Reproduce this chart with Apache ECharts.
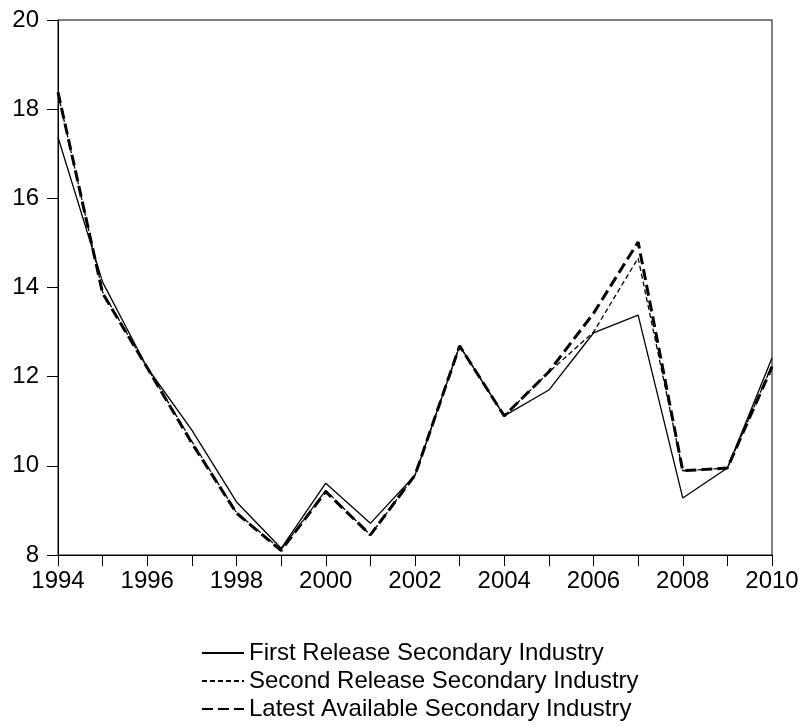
<!DOCTYPE html>
<html>
<head>
<meta charset="utf-8">
<script src="https://cdn.jsdelivr.net/npm/echarts@6/dist/echarts.min.js"></script>
<style>
  html, body { margin: 0; padding: 0; background: #fff; }
  #chart-container { width: 803px; height: 728px; }
</style>
</head>
<body>
<div id="chart-container"></div>
<script>
var years = ['1994', '1995', '1996', '1997', '1998', '1999', '2000', '2001', '2002',
             '2003', '2004', '2005', '2006', '2007', '2008', '2009', '2010'];
var firstRelease = [17.37, 14.12, 12.20, 10.80, 9.19, 8.15, 9.61, 8.71, 9.79,
                    12.69, 11.12, 11.70, 12.98, 13.38, 9.28, 9.95, 12.42];
var secondRelease = [18.35, 13.90, 12.20, 10.55, 8.95, 8.12, 9.45, 8.45, 9.79,
                     12.69, 11.12, 12.10, 13.00, 14.66, 9.89, 9.95, 12.25];
var latestAvailable = [18.38, 13.87, 12.20, 10.51, 8.94, 8.10, 9.42, 8.45, 9.79,
                       12.69, 11.12, 12.11, 13.42, 15.02, 9.89, 9.95, 12.22];
var seriesNames = ['First Release Secondary Industry',
                   'Second Release Secondary Industry',
                   'Latest Available Secondary Industry'];

var dom = document.getElementById('chart-container');
var myChart = echarts.init(dom, null, { renderer: 'canvas' });

var font = 'Liberation Sans, Arial, sans-serif';

var option = {
    animation: false,
    backgroundColor: '#fff',
    grid: {
        left: 58, right: 31, top: 20, bottom: 173,
        show: true, borderColor: '#000', borderWidth: 1
    },
    legend: {
        orient: 'vertical',
        left: 201,
        top: 641,
        height: 90,
        padding: 0,
        itemWidth: 42,
        itemHeight: 14,
        itemGap: 4,
        data: seriesNames,
        itemStyle: { opacity: 0 },
        textStyle: { fontFamily: font, fontSize: 24, color: '#000' }
    },
    xAxis: {
        type: 'category',
        data: years,
        boundaryGap: false,
        axisLine: { lineStyle: { color: '#000', width: 1 } },
        axisTick: { interval: 0, length: 11, lineStyle: { color: '#000' } },
        axisLabel: { interval: 1, color: '#000', fontFamily: font, fontSize: 24, margin: 14 },
        splitLine: { show: false }
    },
    yAxis: {
        type: 'value',
        min: 8, max: 20, interval: 2,
        axisLine: { show: true, lineStyle: { color: '#000', width: 1 } },
        axisTick: { show: true, length: 11, lineStyle: { color: '#000' } },
        axisLabel: { color: '#000', fontFamily: font, fontSize: 24, margin: 19 },
        splitLine: { show: false }
    },
    series: [
        {
            name: seriesNames[0], type: 'line', data: firstRelease,
            symbol: 'none', z: 3,
            itemStyle: { color: '#000' },
            lineStyle: { color: '#000', width: 1.3, type: 'solid' }
        },
        {
            name: seriesNames[1], type: 'line', data: secondRelease,
            symbol: 'none', z: 2,
            itemStyle: { color: '#000' },
            lineStyle: { color: '#000', width: 1.3, type: [5, 3] }
        },
        {
            name: seriesNames[2], type: 'line', data: latestAvailable,
            symbol: 'none', z: 1,
            itemStyle: { color: '#000' },
            lineStyle: { color: '#000', width: 3, type: [11, 5] }
        }
    ]
};

myChart.setOption(option);
window.addEventListener('resize', myChart.resize);
</script>
</body>
</html>
